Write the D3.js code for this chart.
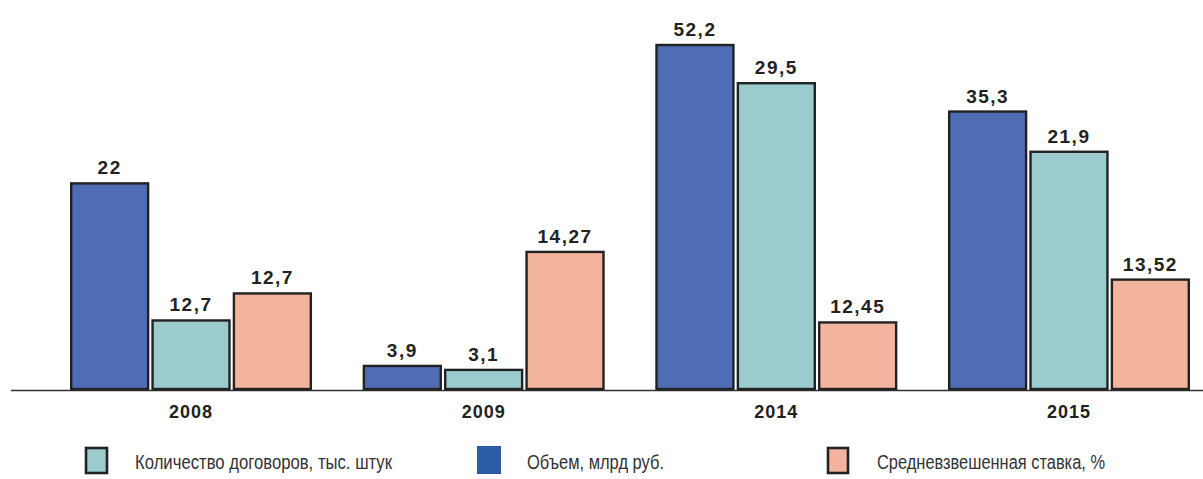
<!DOCTYPE html>
<html>
<head>
    <meta charset="utf-8">
    <script src="https://d3js.org/d3.v7.min.js"></script>
    <style>
        body { margin: 0; background: #fff; }
    </style>
</head>
<body>
    <svg id="chartArea" width="1203" height="479"></svg>
    <script>
        // years on the x axis
        const years = ["2008", "2009", "2014", "2015"];

        // printed values (labels above the bars)
        const volumeLabels = ["22", "3,9", "52,2", "35,3"];
        const contractLabels = ["12,7", "3,1", "29,5", "21,9"];
        const rateLabels = ["12,7", "14,27", "12,45", "13,52"];

        // bar heights as drawn in the picture (the original is not to scale),
        // expressed in units of the volume series
        const volumeHeights = [31.2, 3.5, 52.2, 42.1];
        const contractHeights = [10.4, 2.9, 46.4, 36.0];
        const rateHeights = [14.5, 20.8, 10.1, 16.6];

        const seriesKeys = ["volume", "contracts", "rate"];
        const legendNames = ["Количество договоров, тыс. штук", "Объем, млрд руб.", "Средневзвешенная ставка, %"];

        const fills = { volume: "#4f6db5", contracts: "#9bcbcd", rate: "#f2b49d" };

        const svg = d3.select("#chartArea");
        const baseY = 389;

        const x0 = d3.scaleBand().domain(years).range([70, 1190]).paddingInner(0.173);
        const x1 = d3.scaleBand().domain(seriesKeys).range([0, x0.bandwidth()]).paddingInner(0.025);
        const y = d3.scaleLinear().domain([0, 52.2]).range([baseY, 45]);

        const rows = years.map((yr, i) => ({
            year: yr,
            bars: [
                { key: "volume", h: volumeHeights[i], label: volumeLabels[i] },
                { key: "contracts", h: contractHeights[i], label: contractLabels[i] },
                { key: "rate", h: rateHeights[i], label: rateLabels[i] }
            ]
        }));

        // baseline
        svg.append("line")
            .attr("x1", 11).attr("x2", 1203)
            .attr("y1", baseY + 1.5).attr("y2", baseY + 1.5)
            .attr("stroke", "#333").attr("stroke-width", 1.3);

        const groups = svg.selectAll("g.year").data(rows)
            .join("g")
            .attr("class", "year")
            .attr("transform", d => `translate(${x0(d.year)},0)`);

        groups.selectAll("rect").data(d => d.bars)
            .join("rect")
            .attr("x", d => x1(d.key) + 1.2)
            .attr("width", x1.bandwidth() - 2.4)
            .attr("y", d => y(d.h))
            .attr("height", d => baseY - y(d.h))
            .attr("fill", d => fills[d.key])
            .attr("stroke", "#222")
            .attr("stroke-width", 2.4);

        groups.selectAll("text.val").data(d => d.bars)
            .join("text")
            .attr("class", "val")
            .attr("x", d => x1(d.key) + x1.bandwidth() / 2)
            .attr("y", d => y(d.h) - 9)
            .attr("text-anchor", "middle")
            .attr("font-family", "Liberation Sans, Arial, sans-serif")
            .attr("font-weight", "bold")
            .attr("font-size", 19)
            .attr("letter-spacing", 1.5)
            .attr("fill", "#222")
            .text(d => d.label);

        // year labels
        svg.selectAll("text.yr").data(years)
            .join("text")
            .attr("class", "yr")
            .attr("x", d => x0(d) + x0.bandwidth() / 2)
            .attr("y", 418)
            .attr("text-anchor", "middle")
            .attr("font-family", "Liberation Sans, Arial, sans-serif")
            .attr("font-weight", "bold")
            .attr("font-size", 18)
            .attr("letter-spacing", 1)
            .attr("fill", "#222")
            .text(d => d);

        // legend
        const legendItems = [
            { name: legendNames[0], fill: fills.contracts, stroke: "#222", sx: 86, w: 21, tx: 135, len: 257 },
            { name: legendNames[1], fill: "#2a5ca8", stroke: "none", sx: 477, w: 24, tx: 527, len: 137 },
            { name: legendNames[2], fill: fills.rate, stroke: "#222", sx: 828, w: 20, tx: 877, len: 228 }
        ];

        const legend = svg.append("g");
        legend.selectAll("rect").data(legendItems)
            .join("rect")
            .attr("x", d => d.sx)
            .attr("y", d => d.stroke === "none" ? 446 : 448)
            .attr("width", d => d.w)
            .attr("height", d => d.stroke === "none" ? 28 : 25)
            .attr("fill", d => d.fill)
            .attr("stroke", d => d.stroke)
            .attr("stroke-width", 2.6);

        legend.selectAll("text").data(legendItems)
            .join("text")
            .attr("x", d => d.tx)
            .attr("y", 469)
            .attr("font-family", "Liberation Sans Narrow, Arial Narrow, Liberation Sans, sans-serif")
            .attr("font-size", 20)
            .attr("fill", "#333")
            .attr("textLength", d => d.len)
            .attr("lengthAdjust", "spacingAndGlyphs")
            .text(d => d.name);
    </script>
</body>
</html>
